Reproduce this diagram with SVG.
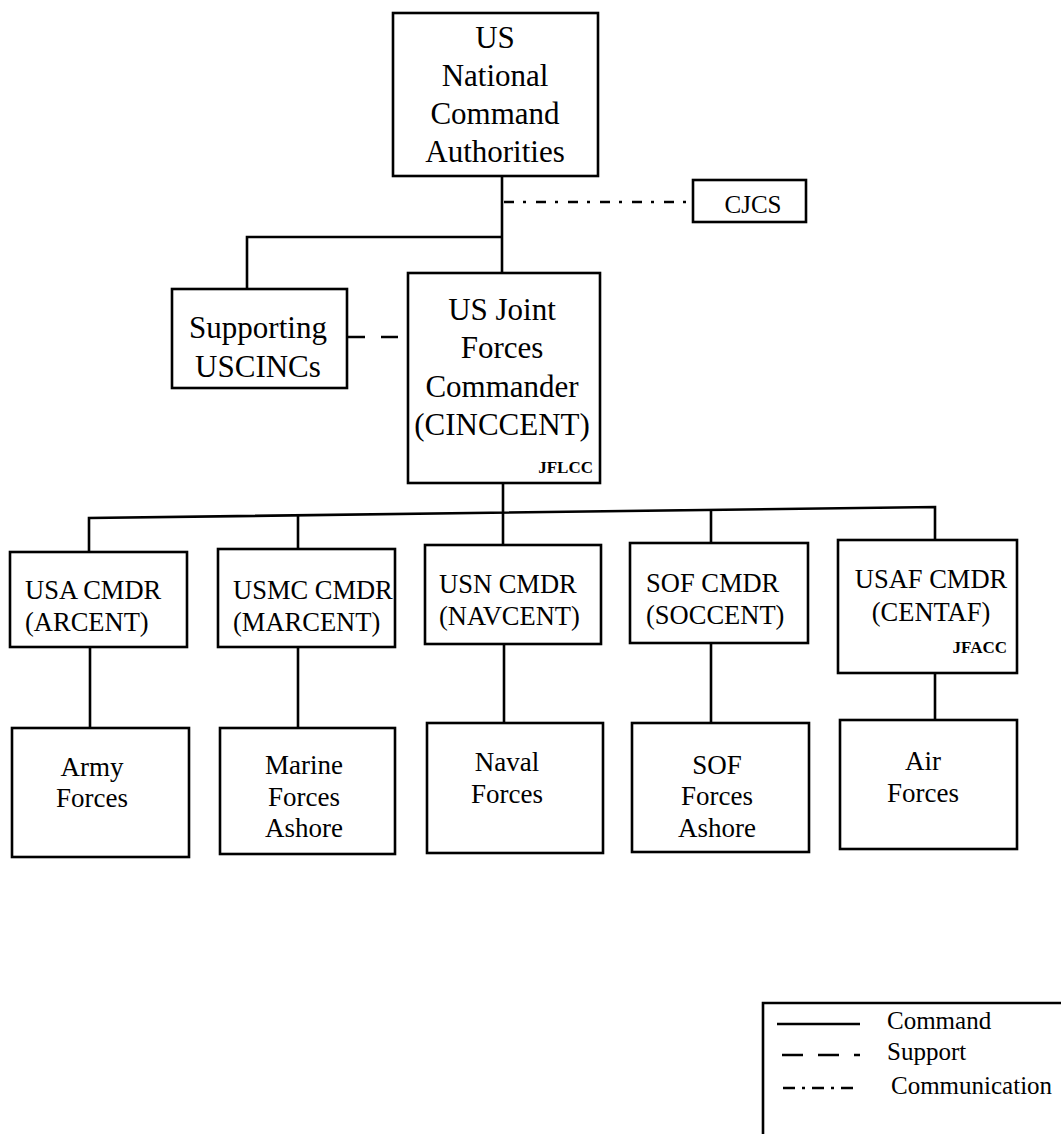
<svg xmlns="http://www.w3.org/2000/svg" width="1061" height="1134" viewBox="0 0 1061 1134">
<style>
  .box { fill: #fff; stroke: #000; stroke-width: 2.6; }
  .ln { fill: none; stroke: #000; stroke-width: 2.6; }
  .sup { stroke-dasharray: 17 16; }
  .com { stroke-dasharray: 10 9 3 10; }
  text { font-family: "Liberation Serif", "Times New Roman", serif; fill: #000; }
  .big { font-size: 31px; text-anchor: middle; }
  .mid { font-size: 26.5px; }
  .bot { font-size: 27px; text-anchor: middle; }
  .tag { font-size: 17px; font-weight: bold; text-anchor: end; }
  .leg { font-size: 25px; }
</style>
<rect width="1061" height="1134" fill="#fff"/>
<g id="connectors">
  <line class="ln" x1="502" y1="176" x2="502" y2="273"/>
  <polyline class="ln" points="247,289 247,237 502,237"/>
  <line class="ln com" x1="504" y1="202" x2="693" y2="202"/>
  <line class="ln sup" x1="348" y1="337" x2="400" y2="337"/>
  <line class="ln" x1="503" y1="483" x2="503" y2="545"/>
  <polyline class="ln" points="89,552 89,518 935,507 935,540"/>
  <line class="ln" x1="298" y1="515" x2="298" y2="549"/>
  <line class="ln" x1="711" y1="510" x2="711" y2="543"/>
  <line class="ln" x1="90" y1="647" x2="90" y2="728"/>
  <line class="ln" x1="298" y1="647" x2="298" y2="728"/>
  <line class="ln" x1="504" y1="644" x2="504" y2="723"/>
  <line class="ln" x1="711" y1="643" x2="711" y2="723"/>
  <line class="ln" x1="935" y1="673" x2="935" y2="720"/>
</g>
<g id="nca">
  <rect class="box" x="393" y="13" width="205" height="163"/>
  <text class="big" x="495" y="48">US</text>
  <text class="big" x="495" y="86">National</text>
  <text class="big" x="495" y="124">Command</text>
  <text class="big" x="495" y="162">Authorities</text>
</g>
<g id="cjcs">
  <rect class="box" x="693" y="180" width="113" height="42"/>
  <text x="753" y="213" style="font-size:25px;text-anchor:middle">CJCS</text>
</g>
<g id="supporting">
  <rect class="box" x="172" y="289" width="175" height="99"/>
  <text class="big" x="258" y="338">Supporting</text>
  <text class="big" x="258" y="377">USCINCs</text>
</g>
<g id="jfc">
  <rect class="box" x="408" y="273" width="192" height="210"/>
  <text class="big" x="502" y="320">US Joint</text>
  <text class="big" x="502" y="358">Forces</text>
  <text class="big" x="502" y="397">Commander</text>
  <text class="big" x="502" y="435">(CINCCENT)</text>
  <text class="tag" x="593" y="473">JFLCC</text>
</g>
<g id="usa">
  <rect class="box" x="10" y="552" width="177" height="95"/>
  <text class="mid" x="25" y="599">USA CMDR</text>
  <text class="mid" x="25" y="631">(ARCENT)</text>
</g>
<g id="usmc">
  <rect class="box" x="218" y="549" width="177" height="98"/>
  <text class="mid" x="233" y="599">USMC CMDR</text>
  <text class="mid" x="233" y="631">(MARCENT)</text>
</g>
<g id="usn">
  <rect class="box" x="425" y="545" width="176" height="99"/>
  <text class="mid" x="439" y="593">USN CMDR</text>
  <text class="mid" x="439" y="625">(NAVCENT)</text>
</g>
<g id="sof">
  <rect class="box" x="630" y="543" width="178" height="100"/>
  <text class="mid" x="646" y="592">SOF CMDR</text>
  <text class="mid" x="646" y="624">(SOCCENT)</text>
</g>
<g id="usaf">
  <rect class="box" x="838" y="540" width="179" height="133"/>
  <text class="mid" x="931" y="588" text-anchor="middle">USAF CMDR</text>
  <text class="mid" x="931" y="621" text-anchor="middle">(CENTAF)</text>
  <text class="tag" x="1007" y="653">JFACC</text>
</g>
<g id="army">
  <rect class="box" x="12" y="728" width="177" height="129"/>
  <text class="bot" x="92" y="776">Army</text>
  <text class="bot" x="92" y="807">Forces</text>
</g>
<g id="marine">
  <rect class="box" x="220" y="728" width="175" height="126"/>
  <text class="bot" x="304" y="774">Marine</text>
  <text class="bot" x="304" y="806">Forces</text>
  <text class="bot" x="304" y="837">Ashore</text>
</g>
<g id="naval">
  <rect class="box" x="427" y="723" width="176" height="130"/>
  <text class="bot" x="507" y="771">Naval</text>
  <text class="bot" x="507" y="803">Forces</text>
</g>
<g id="sofforces">
  <rect class="box" x="632" y="723" width="177" height="129"/>
  <text class="bot" x="717" y="774">SOF</text>
  <text class="bot" x="717" y="805">Forces</text>
  <text class="bot" x="717" y="837">Ashore</text>
</g>
<g id="air">
  <rect class="box" x="840" y="720" width="177" height="129"/>
  <text class="bot" x="923" y="770">Air</text>
  <text class="bot" x="923" y="802">Forces</text>
</g>
<g id="legend">
  <polyline class="ln" points="763,1134 763,1003 1061,1003"/>
  <line class="ln" x1="777" y1="1024" x2="860" y2="1024"/>
  <text class="leg" x="887" y="1029">Command</text>
  <line class="ln" x1="782" y1="1055" x2="860" y2="1055" style="stroke-dasharray:21 15"/>
  <text class="leg" x="887" y="1060">Support</text>
  <line class="ln" x1="783" y1="1088" x2="860" y2="1088" style="stroke-dasharray:12 7 3 7"/>
  <text class="leg" x="891" y="1094">Communication</text>
</g>
</svg>
